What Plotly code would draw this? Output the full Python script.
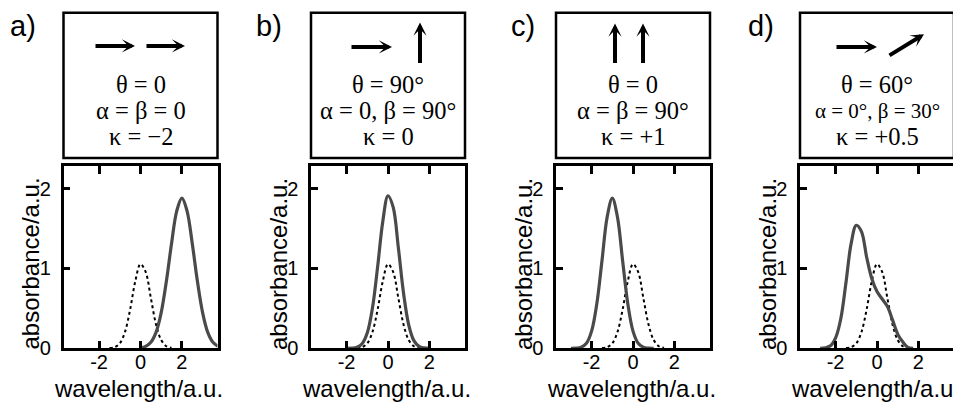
import plotly.graph_objects as go

W, H = 961, 416
OFF = 8  # page body margin of the html page

# ---------------- data ----------------
x_tick_vals = [-2, 0, 2]
x_tick_labels = ["-2", "0", "2"]
y_tick_vals = [0, 1, 2]
y_tick_labels = ["0", "1", "2"]

# monomer reference spectrum (dotted), same in all panels
dotted_x = [-1.5, -1.25, -1.0, -0.75, -0.5, -0.25, 0.0, 0.25, 0.5, 0.75, 1.0, 1.25, 1.5]
dotted_y = [0.002, 0.013, 0.061, 0.204, 0.486, 0.841, 1.054, 0.956, 0.629, 0.299, 0.103, 0.025, 0.005]

# dimer spectra (solid)
solid_a_x = [0.0, 0.25, 0.5, 0.75, 1.0, 1.25, 1.5, 1.75, 2.0, 2.25, 2.5, 2.75, 3.0, 3.25, 3.5, 3.75]
solid_a_y = [0.006, 0.023, 0.074, 0.199, 0.447, 0.838, 1.313, 1.718, 1.88, 1.718, 1.313, 0.838, 0.447, 0.199, 0.074, 0.023]

solid_b_x = [-2.0, -1.75, -1.5, -1.25, -1.0, -0.75, -0.5, -0.25, 0.0, 0.25, 0.5, 0.75, 1.0, 1.25, 1.5, 1.75, 2.0]
solid_b_y = [0.0, 0.002, 0.013, 0.057, 0.193, 0.506, 1.022, 1.592, 1.91, 1.767, 1.26, 0.692, 0.293, 0.096, 0.024, 0.005, 0.0]

solid_c_x = [-3.0, -2.75, -2.5, -2.25, -2.0, -1.75, -1.5, -1.25, -1.0, -0.75, -0.5, -0.25, 0.0, 0.25, 0.5, 0.75, 1.0]
solid_c_y = [0.0, 0.002, 0.014, 0.063, 0.215, 0.555, 1.093, 1.641, 1.88, 1.641, 1.093, 0.555, 0.215, 0.063, 0.014, 0.002, 0.0]

solid_d_x = [-2.75, -2.5, -2.25, -2.0, -1.75, -1.5, -1.25, -1.0, -0.75, -0.5, -0.25, 0.0, 0.25, 0.5, 0.75, 1.0, 1.25, 1.5, 1.75]
solid_d_y = [0.0, 0.005, 0.03, 0.13, 0.37, 0.82, 1.31, 1.54, 1.46, 1.14, 0.87, 0.71, 0.617, 0.526, 0.355, 0.177, 0.077, 0.01, 0.0]

panel_letters = ["a)", "b)", "c)", "d)"]
panel_text = [
    ["θ = 0", "α = β = 0", "κ = −2"],
    ["θ = 90°", "α = 0, β = 90°", "κ = 0"],
    ["θ = 0", "α = β = 90°", "κ = +1"],
    ["θ = 60°", "α = 0°, β = 30°", "κ = +0.5"],
]
solid_series = [(solid_a_x, solid_a_y), (solid_b_x, solid_b_y),
                (solid_c_x, solid_c_y), (solid_d_x, solid_d_y)]

x_title = "wavelength/a.u."
y_title = "absorbance/a.u."

# ---------------- layout geometry (window pixels) ----------------
panel_left = [63.5, 311, 556, 800]
panel_w = 154
plot_top, plot_bot = 170.5, 357.5
box_top, box_bot = 13, 162
letter_x = [8, 254, 509, 746]
text_y = [87, 113.5, 140]
text_sizes = [[24.5, 24.5, 24.5], [24.5, 24.5, 24.5], [24.5, 24.5, 24.5], [24.5, 21, 24.5]]


def px(x):
    return (x - OFF) / W


def py(y):
    return 1 - (y - OFF) / H


fig = go.Figure()
layout = dict(
    width=W, height=H, margin=dict(l=0, r=0, t=0, b=0),
    paper_bgcolor="white", plot_bgcolor="white", showlegend=False,
    shapes=[], annotations=[],
)

sans = "Liberation Sans, Arial, sans-serif"
serif = "Liberation Serif, Times New Roman, serif"
axis_font = dict(family=sans, size=20, color="black")

for i in range(4):
    sfx = "" if i == 0 else str(i + 1)
    x0, x1 = panel_left[i], panel_left[i] + panel_w
    layout["xaxis" + sfx] = dict(
        domain=[px(x0), px(x1)], range=[-3.72, 3.72],
        tickvals=x_tick_vals, ticktext=x_tick_labels,
        ticks="inside", ticklen=8, tickwidth=2.5, tickcolor="black",
        showline=True, linewidth=2.5, linecolor="black", mirror="ticks",
        showgrid=False, zeroline=False, tickfont=axis_font,
        anchor="y" + sfx, fixedrange=True, ticklabelstandoff=-6,
    )
    layout["yaxis" + sfx] = dict(
        domain=[py(plot_bot), py(plot_top)], range=[0, 2.28],
        tickvals=y_tick_vals, ticktext=y_tick_labels,
        ticks="inside", ticklen=7, tickwidth=2.5, tickcolor="black",
        showline=True, linewidth=2.5, linecolor="black", mirror=True,
        showgrid=False, zeroline=False, tickfont=axis_font,
        anchor="x" + sfx, fixedrange=True, ticklabelstandoff=6,
    )
    sx, sy = solid_series[i]
    fig.add_trace(go.Scatter(x=dotted_x, y=dotted_y, mode="lines",
                             line=dict(color="black", width=2, dash="dot", shape="spline"),
                             xaxis="x" + sfx, yaxis="y" + sfx, hoverinfo="skip"))
    fig.add_trace(go.Scatter(x=sx, y=sy, mode="lines",
                             line=dict(color="#4a4a4a", width=3.2, shape="spline"),
                             xaxis="x" + sfx, yaxis="y" + sfx, hoverinfo="skip"))

    # top box
    layout["shapes"].append(dict(type="rect", xref="paper", yref="paper",
                                 x0=px(x0), x1=px(x1), y0=py(box_bot), y1=py(box_top),
                                 line=dict(color="black", width=2.5)))
    cx = (x0 + x1) / 2
    for j, txt in enumerate(panel_text[i]):
        layout["annotations"].append(dict(
            text=txt, x=px(cx), y=py(text_y[j]), xref="paper", yref="paper",
            xanchor="center", yanchor="middle", showarrow=False,
            font=dict(family=serif, size=text_sizes[i][j], color="black")))
    # panel letter
    layout["annotations"].append(dict(
        text=panel_letters[i], x=px(letter_x[i]), y=py(OFF), xref="paper", yref="paper",
        xanchor="left", yanchor="top", showarrow=False,
        font=dict(family=sans, size=29, color="black")))
    # axis titles
    layout["annotations"].append(dict(
        text=x_title, x=px(cx - 2), y=py(399), xref="paper", yref="paper",
        xanchor="center", yanchor="middle", showarrow=False, font=dict(axis_font, size=24)))
    layout["annotations"].append(dict(
        text=y_title, x=px(x0 - 33), y=py(271), xref="paper", yref="paper",
        xanchor="center", yanchor="middle", showarrow=False, textangle=-90,
        font=dict(axis_font, size=24)))

# arrows in the boxes: (head_x, head_y, tail_x, tail_y) in window pixels
arrows = [
    (135, 47, 94, 47), (185, 47, 145, 47),
    (392, 48, 350, 48), (420, 23, 420, 65),
    (615, 24, 615, 65), (643, 24, 643, 65),
    (877, 48, 835, 48), (924, 35, 888, 57),
]
for hx, hy, tx, ty in arrows:
    layout["annotations"].append(dict(
        x=px(hx), y=py(hy), xref="paper", yref="paper", text="",
        showarrow=True, ax=tx - hx, ay=ty - hy, axref="pixel", ayref="pixel",
        arrowhead=3, arrowsize=0.55, arrowwidth=4, arrowcolor="black", standoff=0))

fig.update_layout(**layout)
fig.write_html("out.html")
